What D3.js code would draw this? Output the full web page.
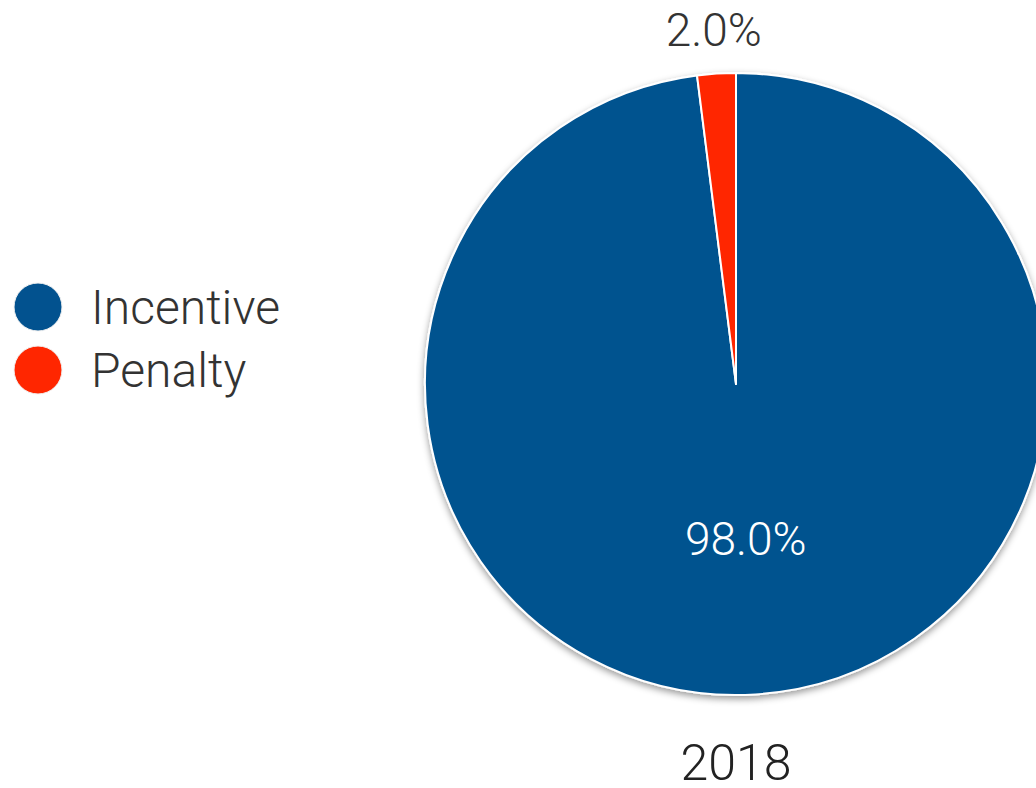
<!DOCTYPE html>
<html>
<head>
<meta charset="utf-8">
<script src="https://cdn.jsdelivr.net/npm/d3@7"></script>
<style>
  html, body { margin: 0; padding: 0; background: #ffffff; overflow: hidden; }
  svg { display: block; font-family: Roboto, "Noto Sans", sans-serif; font-weight: 300; }
</style>
</head>
<body>
<svg id="chart" width="1036" height="788"></svg>
<script>
// Share of 2018 payment adjustments
const categories = ["Incentive", "Penalty"];
const shares = [98.0, 2.0];
const colors = ["#02528f", "#ff2600"];
const yearLabel = "2018";

const svg = d3.select("#chart");
const cx = 736, cy = 384, radius = 311;

const defs = svg.append("defs");
const shadow = defs.append("filter")
  .attr("id", "pieShadow")
  .attr("x", "-20%").attr("y", "-20%")
  .attr("width", "140%").attr("height", "140%");
shadow.append("feDropShadow")
  .attr("dx", 0).attr("dy", 3)
  .attr("stdDeviation", 3.5)
  .attr("flood-color", "#000")
  .attr("flood-opacity", 0.4);

const color = d3.scaleOrdinal().domain(categories).range(colors);

const pie = d3.pie().sort(null).value(d => d.value);
const data = categories.map((c, i) => ({ name: c, value: shares[i] }));
const arcs = pie(data);

const arc = d3.arc().innerRadius(0).outerRadius(radius);
const innerLabelArc = d3.arc().innerRadius(0).outerRadius(radius);
const outerLabelArc = d3.arc().innerRadius(radius * 1.14).outerRadius(radius * 1.14);

const g = svg.append("g").attr("transform", `translate(${cx},${cy})`);

g.append("g")
  .attr("filter", "url(#pieShadow)")
  .selectAll("path")
  .data(arcs)
  .join("path")
  .attr("d", arc)
  .attr("fill", d => color(d.data.name))
  .attr("stroke", "#ffffff")
  .attr("stroke-width", 2)
  .attr("stroke-linejoin", "round");

// Value labels: large slice inside, small slice outside the rim
g.selectAll("text.value")
  .data(arcs)
  .join("text")
  .attr("class", "value")
  .attr("transform", d => {
    const big = (d.endAngle - d.startAngle) > 0.5;
    const p = big ? innerLabelArc.centroid(d) : outerLabelArc.centroid(d);
    return `translate(${p[0]},${p[1]})`;
  })
  .attr("text-anchor", "middle")
  .attr("dominant-baseline", "central")
  .attr("font-size", 46)
  .attr("fill", d => (d.endAngle - d.startAngle) > 0.5 ? "#ffffff" : "#333333")
  .text(d => d.data.value.toFixed(1) + "%");

// Year caption under the pie
svg.append("text")
  .attr("x", cx)
  .attr("y", 780)
  .attr("text-anchor", "middle")
  .attr("font-size", 50)
  .attr("fill", "#222222")
  .text(yearLabel);

// Legend
const legend = svg.append("g").attr("transform", "translate(38,307)");
const item = legend.selectAll("g")
  .data(categories)
  .join("g")
  .attr("transform", (d, i) => `translate(0,${i * 63})`);
item.append("circle")
  .attr("r", 24)
  .attr("fill", d => color(d))
  .attr("stroke", "#f2f2f2")
  .attr("stroke-width", 1);
item.append("text")
  .attr("x", 53)
  .attr("dy", "0.36em")
  .attr("font-size", 48)
  .attr("fill", "#333333")
  .text(d => d);
</script>
</body>
</html>
